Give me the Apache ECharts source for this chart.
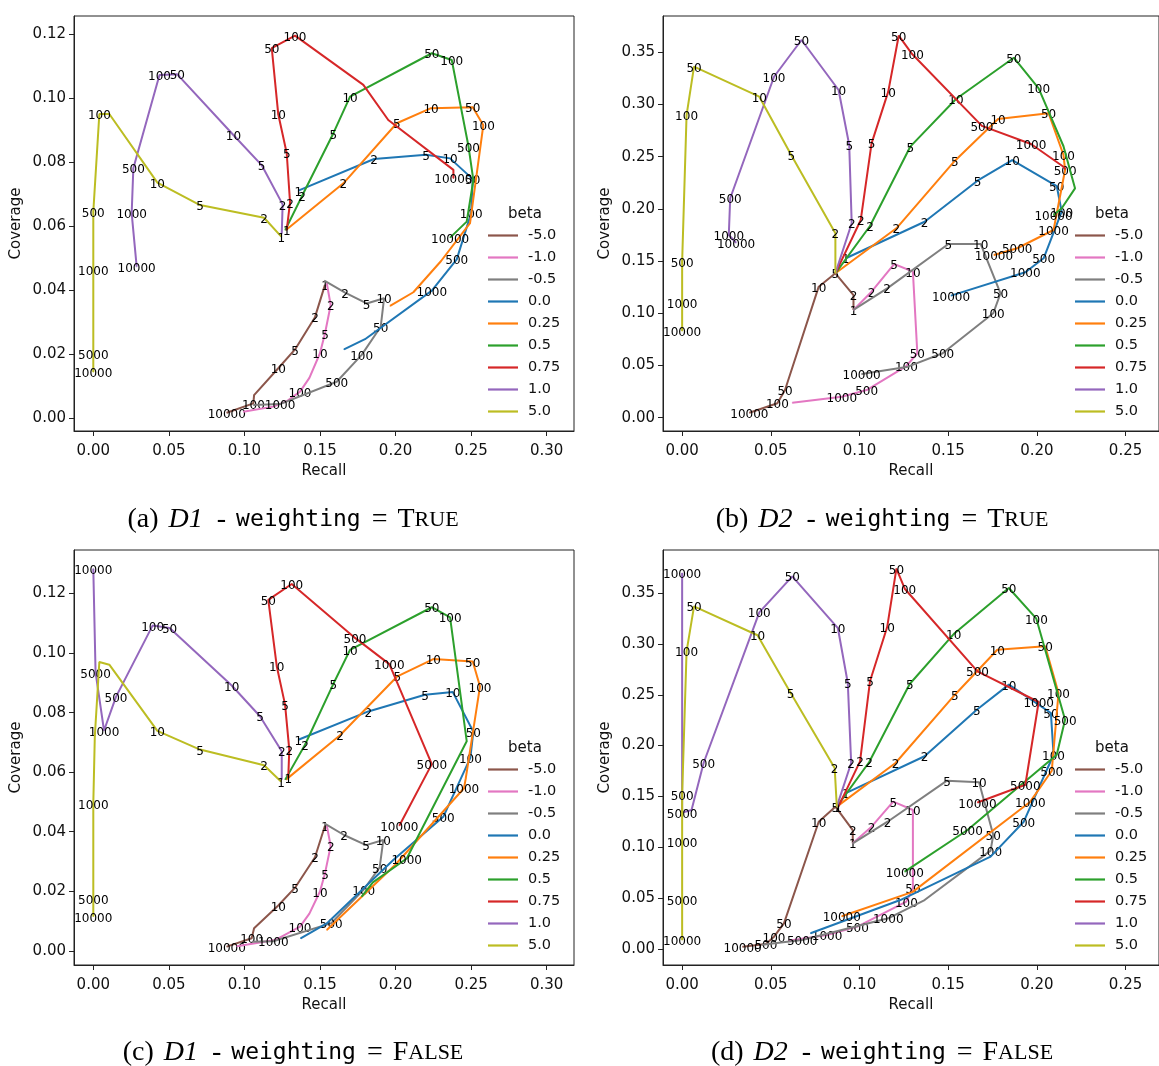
<!DOCTYPE html>
<html>
<head>
<meta charset="utf-8">
<script src="https://cdn.jsdelivr.net/npm/echarts@6/dist/echarts.min.js"></script>
<style>
html,body{margin:0;padding:0;background:#fff}
#chart{width:1159px;height:1066px}
</style>
</head>
<body>
<div id="chart"></div>
<script>
// beta values and their colours (tab10 order used by the plots)
const betas = ['-5.0', '-1.0', '-0.5', '0.0', '0.25', '0.5', '0.75', '1.0', '5.0'];
const betaColors = ['#8c564b', '#e377c2', '#7f7f7f', '#1f77b4', '#ff7f0e', '#2ca02c', '#d62728', '#9467bd', '#bcbd22'];

// tick values
const xTicksD1 = [0, 0.05, 0.10, 0.15, 0.20, 0.25, 0.30];
const yTicksD1 = [0, 0.02, 0.04, 0.06, 0.08, 0.10, 0.12];
const xTicksD2 = [0, 0.05, 0.10, 0.15, 0.20, 0.25];
const yTicksD2 = [0, 0.05, 0.10, 0.15, 0.20, 0.25, 0.30, 0.35];

// Each row: [recall, coverage, lambda annotation ('' = not annotated)]

// ---- D1, weighting = True ----
const d1wBetaM50 = [[0.1533,0.0416,'1'],[0.1467,0.0315,'2'],[0.1335,0.0214,'5'],[0.1224,0.0155,'10'],[0.1064,0.0071,''],[0.1059,0.0045,'100'],[0.0883,0.0016,'10000']];
const d1wBetaM10 = [[0.1545,0.0421,''],[0.1571,0.0353,'2'],[0.1533,0.0264,'5'],[0.1500,0.0202,'10'],[0.1430,0.0125,''],[0.1368,0.0082,'100'],[0.1280,0.0052,''],[0.1191,0.0035,''],[0.0993,0.0019,'']];
const d1wBetaM05 = [[0.1529,0.0429,''],[0.1666,0.0392,'2'],[0.1809,0.0358,'5'],[0.1924,0.0374,'10'],[0.1902,0.0285,'50'],[0.1776,0.0197,'100'],[0.1611,0.0113,'500'],[0.1236,0.0043,'1000'],[0.1059,0.0040,'']];
const d1wBeta00 = [[0.1357,0.0711,'1'],[0.1858,0.0810,'2'],[0.2202,0.0823,'5'],[0.2361,0.0812,'10'],[0.2511,0.0747,'50'],[0.2500,0.0640,'100'],[0.2405,0.0496,'500'],[0.2240,0.0398,'1000'],[0.1798,0.0246,''],[0.1659,0.0214,'']];
const d1wBeta025 = [[0.1275,0.0588,''],[0.1655,0.0734,'2'],[0.2008,0.0922,'5'],[0.2235,0.0969,'10'],[0.2511,0.0972,'50'],[0.2581,0.0916,'100'],[0.2493,0.0609,''],[0.2300,0.0490,''],[0.2118,0.0393,''],[0.1964,0.0350,'']];
const d1wBeta05 = [[0.1270,0.0588,''],[0.1381,0.0694,'2'],[0.1588,0.0890,'5'],[0.1699,0.1005,'10'],[0.2240,0.1141,'50'],[0.2372,0.1120,'100'],[0.2483,0.0849,'500'],[0.2515,0.0744,''],[0.2471,0.0614,''],[0.2361,0.0564,'10000']];
const d1wBeta075 = [[0.1280,0.0588,'1'],[0.1302,0.0674,'2'],[0.1280,0.0828,'5'],[0.1224,0.0950,'10'],[0.1181,0.1157,'50'],[0.1335,0.1196,'100'],[0.1787,0.1042,''],[0.1952,0.0932,''],[0.2383,0.0776,''],[0.2383,0.0750,'10000']];
const d1wBeta10 = [[0.1247,0.0577,''],[0.1253,0.0668,'2'],[0.1114,0.0791,'5'],[0.0927,0.0885,'10'],[0.0556,0.1075,'50'],[0.0438,0.1073,'100'],[0.0265,0.0781,'500'],[0.0254,0.0640,'1000'],[0.0287,0.0473,'10000']];
const d1wBeta50 = [[0.1244,0.0567,'1'],[0.1130,0.0626,'2'],[0.0706,0.0666,'5'],[0.0424,0.0736,'10'],[0.0106,0.0951,''],[0.0040,0.0951,'100'],[0.0000,0.0645,'500'],[0.0000,0.0463,'1000'],[0.0000,0.0200,'5000'],[0.0000,0.0143,'10000']];

// ---- D2, weighting = True ----
const d2wBetaM50 = [[0.0966,0.1032,'1'],[0.0966,0.1175,'2'],[0.0864,0.1383,'5'],[0.0770,0.1255,'10'],[0.0580,0.0265,'50'],[0.0537,0.0138,'100'],[0.0379,0.0048,'10000']];
const d2wBetaM10 = [[0.0966,0.1032,''],[0.1068,0.1207,'2'],[0.1195,0.1472,'5'],[0.1301,0.1399,'10'],[0.1326,0.0617,'50'],[0.1264,0.0495,'100'],[0.1040,0.0265,'500'],[0.0900,0.0201,'1000'],[0.0621,0.0144,'']];
const d2wBetaM05 = [[0.0966,0.1032,''],[0.1156,0.1239,'2'],[0.1501,0.1664,'5'],[0.1683,0.1664,'10'],[0.1795,0.1192,'50'],[0.1754,0.1000,'100'],[0.1469,0.0617,'500'],[0.1273,0.0489,''],[0.1012,0.0419,'10000']];
const d2wBeta00 = [[0.0923,0.1527,'1'],[0.1367,0.1877,'2'],[0.1665,0.2270,'5'],[0.1861,0.2468,'10'],[0.2112,0.2219,'50'],[0.2140,0.1973,'100'],[0.2038,0.1527,'500'],[0.1935,0.1393,'1000'],[0.1516,0.1169,'10000']];
const d2wBeta025 = [[0.0864,0.1383,''],[0.1208,0.1814,'2'],[0.1538,0.2462,'5'],[0.1781,0.2861,'10'],[0.2066,0.2916,'50'],[0.2150,0.2516,'100'],[0.2159,0.2373,'500'],[0.2094,0.1798,'1000'],[0.1889,0.1623,'5000'],[0.1758,0.1558,'10000']];
const d2wBeta05 = [[0.0864,0.1383,''],[0.1059,0.1836,'2'],[0.1286,0.2596,'5'],[0.1544,0.3053,'10'],[0.1870,0.3448,'50'],[0.2010,0.3155,'100'],[0.2150,0.2600,''],[0.2215,0.2197,''],[0.2140,0.2006,''],[0.2094,0.1941,'10000']];
const d2wBeta075 = [[0.0864,0.1383,''],[0.1007,0.1894,'2'],[0.1068,0.2628,'5'],[0.1162,0.3123,'10'],[0.1221,0.3659,'50'],[0.1298,0.3481,'100'],[0.1690,0.2795,'500'],[0.1967,0.2622,'1000'],[0.2150,0.2404,''],[0.2160,0.2380,'']];
const d2wBeta10 = [[0.0864,0.1383,''],[0.0956,0.1862,'2'],[0.0942,0.2612,'5'],[0.0882,0.3139,'10'],[0.0673,0.3618,'50'],[0.0518,0.3266,'100'],[0.0271,0.2102,'500'],[0.0263,0.1750,'1000'],[0.0304,0.1676,'10000']];
const d2wBeta50 = [[0.0864,0.1383,''],[0.0864,0.1766,'2'],[0.0615,0.2516,'5'],[0.0435,0.3075,'10'],[0.0067,0.3362,'50'],[0.0025,0.2899,'100'],[0.0000,0.1494,'500'],[0.0000,0.1096,'1000'],[0.0000,0.0830,'10000']];

// ---- D1, weighting = False ----
const d1nBetaM50 = [[0.1533,0.0420,'1'],[0.1467,0.0314,'2'],[0.1335,0.0212,'5'],[0.1224,0.0152,'10'],[0.1064,0.0076,''],[0.1048,0.0042,'100'],[0.0883,0.0014,'10000']];
const d1nBetaM10 = [[0.1545,0.0421,''],[0.1571,0.0352,'2'],[0.1533,0.0260,'5'],[0.1500,0.0199,'10'],[0.1430,0.0125,''],[0.1368,0.0081,'100'],[0.1203,0.0036,''],[0.0950,0.0015,'']];
const d1nBetaM05 = [[0.1529,0.0428,''],[0.1659,0.0389,'2'],[0.1805,0.0355,'5'],[0.1919,0.0372,'10'],[0.1895,0.0280,'50'],[0.1790,0.0206,'100'],[0.1575,0.0093,'500'],[0.1191,0.0032,'1000'],[0.1050,0.0030,'']];
const d1nBeta00 = [[0.1357,0.0709,'1'],[0.1820,0.0804,'2'],[0.2195,0.0860,'5'],[0.2379,0.0869,'10'],[0.2515,0.0736,'50'],[0.2495,0.0648,'100'],[0.2316,0.0450,'500'],[0.1985,0.0305,''],[0.1545,0.0092,''],[0.1372,0.0042,'']];
const d1nBeta025 = [[0.1275,0.0575,''],[0.1633,0.0724,'2'],[0.2012,0.0922,'5'],[0.2250,0.0980,'10'],[0.2511,0.0972,'50'],[0.2559,0.0888,'100'],[0.2465,0.0580,''],[0.2453,0.0546,'1000'],[0.2000,0.0290,''],[0.1545,0.0070,'']];
const d1nBeta05 = [[0.1270,0.0575,''],[0.1401,0.0692,'2'],[0.1588,0.0896,'5'],[0.1699,0.1011,'10'],[0.2240,0.1154,'50'],[0.2361,0.1120,'100'],[0.2471,0.0704,''],[0.2074,0.0310,'1000'],[0.1850,0.0230,''],[0.1776,0.0182,'']];
const d1nBeta075 = [[0.1290,0.0580,'1'],[0.1297,0.0676,'2'],[0.1269,0.0827,'5'],[0.1214,0.0956,'10'],[0.1158,0.1179,'50'],[0.1313,0.1232,'100'],[0.1732,0.1051,'500'],[0.1959,0.0963,'1000'],[0.2240,0.0627,'5000'],[0.2025,0.0420,'10000']];
const d1nBeta10 = [[0.1247,0.0575,''],[0.1247,0.0670,'2'],[0.1103,0.0788,'5'],[0.0916,0.0891,'10'],[0.0505,0.1084,'50'],[0.0393,0.1093,'100'],[0.0150,0.0853,'500'],[0.0071,0.0740,'1000'],[0.0015,0.0935,'5000'],[0.0000,0.1283,'10000']];
const d1nBeta50 = [[0.1242,0.0569,'1'],[0.1130,0.0623,'2'],[0.0706,0.0676,'5'],[0.0424,0.0739,'10'],[0.0106,0.0961,''],[0.0040,0.0970,''],[0.0010,0.0720,''],[0.0000,0.0495,'1000'],[0.0000,0.0176,'5000'],[0.0000,0.0115,'10000']];

// ---- D2, weighting = False ----
const d2nBetaM50 = [[0.0962,0.1038,'1'],[0.0962,0.1169,'2'],[0.0864,0.1399,'5'],[0.0770,0.1251,'10'],[0.0574,0.0251,'50'],[0.0518,0.0119,'100'],[0.0472,0.0047,'500'],[0.0341,0.0021,'10000']];
const d2nBetaM10 = [[0.0962,0.1038,''],[0.1068,0.1202,'2'],[0.1190,0.1448,'5'],[0.1301,0.1366,'10'],[0.1301,0.0595,'50'],[0.1264,0.0464,'100'],[0.0988,0.0218,'500'],[0.0817,0.0136,'1000'],[0.0600,0.0080,'']];
const d2nBetaM05 = [[0.0962,0.1038,''],[0.1158,0.1251,'2'],[0.1493,0.1655,'5'],[0.1674,0.1639,'10'],[0.1754,0.1120,'50'],[0.1739,0.0966,'100'],[0.1367,0.0480,''],[0.1162,0.0300,'1000'],[0.0677,0.0087,'5000'],[0.0450,0.0040,'']];
const d2nBeta00 = [[0.0923,0.1533,'1'],[0.1367,0.1895,'2'],[0.1661,0.2353,'5'],[0.1842,0.2600,'10'],[0.2079,0.2321,'50'],[0.2094,0.1910,'100'],[0.1926,0.1251,'500'],[0.1739,0.0907,''],[0.1230,0.0480,''],[0.0724,0.0153,'']];
const d2nBeta025 = [[0.0872,0.1399,''],[0.1203,0.1829,'2'],[0.1538,0.2501,'5'],[0.1777,0.2944,'10'],[0.2047,0.2977,'50'],[0.2122,0.2518,'100'],[0.2084,0.1753,'500'],[0.1963,0.1448,'1000'],[0.1300,0.0560,''],[0.0900,0.0320,'10000']];
const d2nBeta05 = [[0.0872,0.1399,''],[0.1054,0.1836,'2'],[0.1283,0.2606,'5'],[0.1531,0.3098,'10'],[0.1842,0.3551,'50'],[0.1997,0.3249,'100'],[0.2159,0.2255,'500'],[0.2112,0.1910,''],[0.1609,0.1169,'5000'],[0.1255,0.0759,'10000']];
const d2nBeta075 = [[0.0881,0.1399,'1'],[0.1003,0.1845,'2'],[0.1059,0.2633,'5'],[0.1156,0.3167,'10'],[0.1208,0.3741,'50'],[0.1255,0.3544,'100'],[0.1665,0.2731,'500'],[0.2010,0.2429,'1000'],[0.1935,0.1615,'5000'],[0.1665,0.1440,'10000']];
const d2nBeta10 = [[0.0872,0.1399,''],[0.0953,0.1829,'2'],[0.0934,0.2616,'5'],[0.0878,0.3157,'10'],[0.0621,0.3666,'50'],[0.0435,0.3312,'100'],[0.0121,0.1829,'500'],[0.0053,0.1366,''],[0.0000,0.1340,'5000'],[0.0000,0.3699,'10000']];
const d2nBeta50 = [[0.0872,0.1399,''],[0.0860,0.1780,'2'],[0.0612,0.2518,'5'],[0.0425,0.3086,'10'],[0.0067,0.3371,'50'],[0.0025,0.2928,'100'],[0.0000,0.1517,'500'],[0.0000,0.1054,'1000'],[0.0000,0.0480,'5000'],[0.0000,0.0087,'10000']];

// panel order: (a) D1 weighted, (b) D2 weighted, (c) D1 unweighted, (d) D2 unweighted
const panelData = [
  [d1wBetaM50, d1wBetaM10, d1wBetaM05, d1wBeta00, d1wBeta025, d1wBeta05, d1wBeta075, d1wBeta10, d1wBeta50],
  [d2wBetaM50, d2wBetaM10, d2wBetaM05, d2wBeta00, d2wBeta025, d2wBeta05, d2wBeta075, d2wBeta10, d2wBeta50],
  [d1nBetaM50, d1nBetaM10, d1nBetaM05, d1nBeta00, d1nBeta025, d1nBeta05, d1nBeta075, d1nBeta10, d1nBeta50],
  [d2nBetaM50, d2nBetaM10, d2nBetaM05, d2nBeta00, d2nBeta025, d2nBeta05, d2nBeta075, d2nBeta10, d2nBeta50]
];

const panels = [
  {left: 74,  top: 16,  xr: [-0.01277, 0.3181],  yr: [-0.00413, 0.12576], xt: xTicksD1, yt: yTicksD1, letter: '(a)', ds: 'D1', flag: ['T', 'RUE']},
  {left: 663, top: 16,  xr: [-0.01079, 0.26885], yr: [-0.01274, 0.38477], xt: xTicksD2, yt: yTicksD2, letter: '(b)', ds: 'D2', flag: ['T', 'RUE']},
  {left: 74,  top: 550, xr: [-0.01277, 0.3181],  yr: [-0.00477, 0.13463], xt: xTicksD1, yt: yTicksD1, letter: '(c)', ds: 'D1', flag: ['F', 'ALSE']},
  {left: 663, top: 550, xr: [-0.01079, 0.26885], yr: [-0.01594, 0.39252], xt: xTicksD2, yt: yTicksD2, letter: '(d)', ds: 'D2', flag: ['F', 'ALSE']}
];
const PW = 500, PH = 415;
const ink = '#111';
const sans = 'DejaVu Sans';

const grid = [], xAxis = [], yAxis = [], series = [], legend = [], graphic = [];

panels.forEach((p, i) => {
  grid.push({left: p.left, top: p.top, width: PW, height: PH, show: true, borderColor: '#222', borderWidth: 1, backgroundColor: 'transparent'});
  xAxis.push({
    gridIndex: i, type: 'value', min: p.xr[0], max: p.xr[1],
    axisLine: {show: true, onZero: false, lineStyle: {color: '#222', width: 1}},
    axisTick: {show: true, customValues: p.xt, length: 5, lineStyle: {color: '#222'}},
    axisLabel: {customValues: p.xt, formatter: v => v.toFixed(2), fontSize: 15, color: ink, fontFamily: sans, margin: 13},
    splitLine: {show: false},
    name: 'Recall', nameLocation: 'middle', nameGap: 33,
    nameTextStyle: {fontSize: 15, color: ink, fontFamily: sans}
  });
  yAxis.push({
    gridIndex: i, type: 'value', min: p.yr[0], max: p.yr[1],
    axisLine: {show: true, onZero: false, lineStyle: {color: '#222', width: 1}},
    axisTick: {show: true, customValues: p.yt, length: 5, lineStyle: {color: '#222'}},
    axisLabel: {customValues: p.yt, formatter: v => v.toFixed(2), fontSize: 15, color: ink, fontFamily: sans, margin: 8},
    splitLine: {show: false},
    name: 'Coverage', nameLocation: 'middle', nameGap: 50,
    nameTextStyle: {fontSize: 15, color: ink, fontFamily: sans}
  });

  panelData[i].forEach((rows, k) => {
    series.push({
      type: 'line', name: betas[k], xAxisIndex: i, yAxisIndex: i,
      data: rows,
      color: betaColors[k],
      symbol: 'circle', symbolSize: 1, showSymbol: true,
      lineStyle: {width: 2, color: betaColors[k]},
      itemStyle: {color: betaColors[k]},
      label: {
        show: true, position: 'inside', offset: [0, 2],
        formatter: prm => prm.data[2],
        color: '#000', fontSize: 12, fontFamily: sans
      },
      emphasis: {disabled: true},
      z: 2 + k * 0.01
    });
  });

  const legLeft = i % 2 === 0 ? 488 : 1075;
  legend.push({
    data: betas, orient: 'vertical', left: legLeft, top: p.top + 212,
    icon: 'rect', itemWidth: 30, itemHeight: 2.2, itemGap: 7, padding: 0,
    selectedMode: false,
    textStyle: {fontSize: 14.5, lineHeight: 14, color: ink, fontFamily: sans, padding: [0, 0, 0, 5]}
  });
  graphic.push({
    type: 'text', left: legLeft + 20, top: p.top + 191,
    style: {text: 'beta', fontSize: 15, fontFamily: sans, fill: ink}
  });

  // caption: "(x) Dn - weighting = TRUE/FALSE" with italic dataset name,
  // typewriter parameter name and small-caps flag
  const cx = i % 2 === 0 ? 293 : 882;
  const cy = i < 2 ? 520 : 1053;
  graphic.push({
    type: 'text', x: cx, y: cy,
    style: {
      text: '{n|' + p.letter + '}{g1| }{i|' + p.ds + '}{g2| }{n|-}{g3| }{m|weighting}{g4| }{n|=}{g5| }{n|' + p.flag[0] + '}{s|' + p.flag[1] + '}',
      align: 'center', verticalAlign: 'middle',
      rich: {
        n: {fontFamily: 'Liberation Serif', fontSize: 28, fill: '#000'},
        i: {fontFamily: 'Liberation Serif', fontStyle: 'italic', fontSize: 28, fill: '#000'},
        m: {fontFamily: 'DejaVu Sans Mono', fontSize: 23, fill: '#000'},
        s: {fontFamily: 'Liberation Serif', fontSize: 22, fill: '#000'},
        g1: {width: 10, fontSize: 10}, g2: {width: 14, fontSize: 10}, g3: {width: 10, fontSize: 10},
        g4: {width: 11, fontSize: 10}, g5: {width: 10, fontSize: 10}
      }
    }
  });
});

const chart = echarts.init(document.getElementById('chart'), null, {renderer: 'canvas'});
chart.setOption({
  animation: false,
  backgroundColor: '#fff',
  grid, xAxis, yAxis, series, legend, graphic,
  tooltip: {show: false}
});
</script>
</body>
</html>
